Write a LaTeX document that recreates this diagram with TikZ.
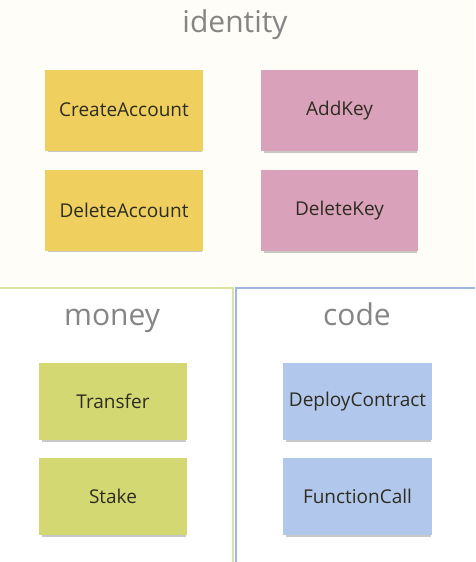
\documentclass[tikz,border=0pt]{standalone}
\usepackage{fontspec}
\setmainfont{Open Sans}
\usetikzlibrary{shadows}
\definecolor{bgtop}{HTML}{FFFDF8}
\definecolor{stickyyellow}{HTML}{EFCF5E}
\definecolor{stickypink}{HTML}{D9A2BA}
\definecolor{stickygreen}{HTML}{D3D873}
\definecolor{stickyblue}{HTML}{B1C8EC}
\definecolor{linegreen}{HTML}{DCE3A0}
\definecolor{lineblue}{HTML}{9DB7DF}
\definecolor{titlegray}{HTML}{858585}
\definecolor{stickytext}{HTML}{2E2C20}
\tikzset{
  sticky/.style={rectangle, minimum width=#1, inner sep=0pt, text=stickytext,
    font=\fontsize{19}{21}\selectfont,
    drop shadow={shadow xshift=1pt, shadow yshift=-3pt, shadow scale=0.97, opacity=0.3, fill=black!70}},
  title/.style={text=titlegray, font=\fontsize{30}{34}\selectfont, inner sep=0pt, anchor=base}
}
\begin{document}
\begin{tikzpicture}[x=1pt,y=-1pt]
\useasboundingbox (0,0) rectangle (475,562);
\fill[bgtop] (0,0) rectangle (475,288);
\fill[white] (0,288) rectangle (475,562);
% dividers
\draw[linegreen, line width=2pt] (0,288) -- (233,288) -- (233,562);
\draw[lineblue, line width=2pt] (475,288) -- (236,288) -- (236,562);
% titles
\node[title] (tid) at (235,32) {identity};
\node[title] (tmo) at (112,325) {money};
\node[title] (tco) at (357,325) {code};
% stickies
\node[sticky=158pt, minimum height=81pt, fill=stickyyellow] (ca) at (124,110) {CreateAccount};
\node[sticky=158pt, minimum height=81pt, fill=stickyyellow] (da) at (124,210) {DeleteAccount};
\node[sticky=157pt, minimum height=81pt, fill=stickypink] (ak) at (339.5,110.5) {AddKey};
\node[sticky=157pt, minimum height=81pt, fill=stickypink] (dk) at (339.5,210.5) {DeleteKey};
\node[sticky=148pt, minimum height=77pt, fill=stickygreen] (tr) at (113,401.5) {Transfer};
\node[sticky=148pt, minimum height=77pt, fill=stickygreen] (st) at (113,496.5) {Stake};
\node[sticky=149pt, minimum height=77pt, fill=stickyblue] (dc) at (357.5,401.5) {DeployContract};
\node[sticky=149pt, minimum height=77pt, fill=stickyblue] (fc) at (357.5,496.5) {FunctionCall};
\end{tikzpicture}
\end{document}
